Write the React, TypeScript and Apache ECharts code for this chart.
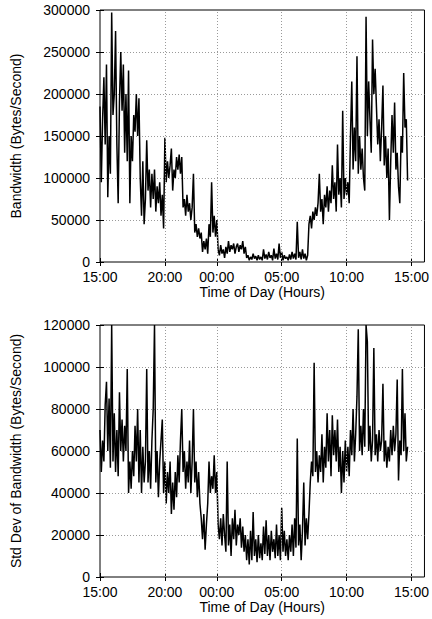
import React, { useEffect, useRef } from "react";
import * as echarts from "echarts";

// Sampling: one value every 0.1 hour starting at 15:00
const SAMPLE_STEP_HOURS = 0.1;

// Bandwidth (thousands of Bytes/Second)
const bandwidthK = [
  185, 95, 170, 220, 140, 235, 77, 150, 105, 297, 175, 200, 275, 140, 70, 190, 250, 180, 235, 130,
  200, 120, 228, 70, 150, 120, 175, 155, 200, 150, 195, 100, 55, 120, 45, 75, 145, 85, 110, 65,
  105, 75, 110, 60, 90, 70, 95, 55, 80, 40, 148, 95, 120, 100, 115, 135, 85, 110, 100, 125,
  110, 128, 105, 125, 65, 75, 55, 80, 60, 70, 50, 65, 105, 35, 45, 30, 40, 28, 35, 12,
  25, 15, 28, 10, 45, 30, 95, 35, 55, 30, 50, 15, 8, 20, 10, 15, 5, 18, 10, 25,
  12, 20, 15, 22, 10, 18, 22, 12, 20, 15, 25, 10, 18, 5, 8, 2, 6, 3, 10, 4,
  7, 2, 8, 3, 6, 2, 15, 4, 9, 3, 12, 5, 8, 2, 16, 4, 10, 3, 22, 5,
  12, 2, 8, 4, 6, 2, 9, 3, 12, 4, 10, 3, 48, 5, 12, 3, 15, 4, 10, 2,
  8, 45, 55, 40, 60, 50, 65, 55, 70, 105, 60, 75, 45, 80, 65, 90, 60, 85, 70, 115,
  75, 95, 60, 140, 80, 100, 65, 180, 75, 100, 80, 95, 70, 150, 215, 110, 160, 120, 245, 105,
  150, 110, 135, 100, 85, 292, 150, 215, 170, 130, 265, 200, 230, 185, 140, 170, 120, 160, 210, 115,
  150, 100, 135, 50, 120, 175, 130, 190, 110, 130, 90, 70, 150, 130, 225, 160, 170, 97,
];

// Std dev of bandwidth (thousands of Bytes/Second)
const stdDevK = [
  70, 50, 65, 55, 82, 93, 60, 85, 52, 120, 55, 78, 50, 70, 48, 88, 60, 75, 55, 72,
  60, 99, 40, 55, 42, 60, 48, 72, 55, 80, 45, 70, 40, 62, 45, 55, 99, 45, 60, 42,
  65, 80, 120, 45, 60, 38, 55, 65, 75, 40, 55, 35, 50, 40, 55, 30, 45, 32, 50, 38,
  58, 45, 65, 80, 50, 60, 42, 55, 45, 65, 40, 55, 80, 45, 55, 38, 50, 35, 28, 18,
  30, 13, 25, 35, 55, 40, 48, 42, 58, 40, 50, 25, 18, 28, 15, 30, 20, 12, 55, 15,
  25, 10, 28, 18, 32, 15, 25, 20, 28, 14, 24, 12, 20, 8, 18, 6, 22, 8, 31, 10,
  18, 7, 20, 9, 16, 8, 24, 11, 27, 10, 20, 8, 22, 12, 18, 9, 25, 10, 20, 8,
  33, 12, 22, 10, 18, 8, 20, 12, 25, 10, 28, 14, 66, 15, 25, 8, 22, 45, 15, 28,
  18, 30, 45, 55, 48, 102, 50, 60, 45, 58, 50, 68, 45, 62, 52, 78, 55, 70, 48, 77,
  58, 70, 55, 75, 50, 62, 40, 60, 45, 65, 50, 62, 48, 70, 58, 80, 55, 68, 86, 118,
  60, 72, 58, 80, 62, 120, 112, 60, 72, 55, 65, 109, 58, 68, 55, 70, 60, 65, 92, 55,
  65, 52, 62, 55, 70, 58, 72, 60, 68, 94, 46, 65, 58, 99, 60, 78, 55, 62,
];

// X axis ticks (hours after 15:00) and labels
const xTickHours = [0, 5, 9, 14, 19, 24];
const xTickLabels = ["15:00", "20:00", "00:00", "05:00", "10:00", "15:00"];
const X_MIN = 0;
const X_MAX = 25;

const FONT = "'Liberation Sans', Arial, Helvetica, sans-serif";

export default function App() {
  const ref = useRef<HTMLDivElement>(null);
  useEffect(() => {
    if (!ref.current) return;
    const chart = echarts.init(ref.current, undefined, { renderer: "svg" });

    const toPoints = (arr: number[]) => arr.map((v, i) => [i * SAMPLE_STEP_HOURS, v * 1000]);
    const labelFor = (v: number) => {
      const idx = xTickHours.indexOf(Math.round(v));
      return idx >= 0 ? xTickLabels[idx] : "";
    };

    const textStyle = { color: "#000", fontFamily: FONT, fontSize: 14, lineHeight: 14 };
    const gridLine = { color: "#9a9a9a", type: [1, 2] as any, width: 1 };

    const makeX = (gridIndex: number) => [
      {
        type: "value",
        gridIndex,
        min: X_MIN,
        max: X_MAX,
        position: "bottom",
        axisLine: { show: false },
        axisTick: { show: true, inside: true, length: 4, customValues: xTickHours, lineStyle: { color: "#000" } },
        axisLabel: {
          ...textStyle,
          margin: 8,
          customValues: xTickHours,
          formatter: (v: number) => labelFor(v),
        },
        splitLine: { show: false },
        name: "Time of Day (Hours)",
        nameLocation: "middle",
        nameGap: 23,
        nameTextStyle: { ...textStyle },
      },
      {
        type: "value",
        gridIndex,
        min: X_MIN,
        max: X_MAX,
        position: "top",
        axisLine: { show: false },
        axisTick: { show: true, inside: true, length: 4, customValues: xTickHours, lineStyle: { color: "#000" } },
        axisLabel: { show: false },
        splitLine: { show: false },
      },
    ];

    const makeY = (gridIndex: number, max: number, interval: number, name: string) => [
      {
        type: "value",
        gridIndex,
        min: 0,
        max,
        interval,
        position: "left",
        axisLine: { show: false },
        axisTick: { show: true, inside: true, length: 4, lineStyle: { color: "#000" } },
        axisLabel: { ...textStyle, margin: 10, formatter: (v: number) => String(v) },
        splitLine: { show: true, showMinLine: false, showMaxLine: false, lineStyle: gridLine },
        name,
        nameLocation: "middle",
        nameGap: 77,
        nameTextStyle: { ...textStyle },
      },
      {
        type: "value",
        gridIndex,
        min: 0,
        max,
        interval,
        position: "right",
        axisLine: { show: false },
        axisTick: { show: true, inside: true, length: 4, lineStyle: { color: "#000" } },
        axisLabel: { show: false },
        splitLine: { show: false },
      },
    ];

    const vGrid = (xAxisIndex: number, yAxisIndex: number) => ({
      type: "line",
      xAxisIndex,
      yAxisIndex,
      data: [],
      silent: true,
      z: 1,
      markLine: {
        silent: true,
        symbol: "none",
        label: { show: false },
        lineStyle: gridLine,
        data: xTickHours.filter((h) => h > X_MIN).map((h) => ({ xAxis: h })),
      },
    });

    const dataSeries = (xAxisIndex: number, yAxisIndex: number, arr: number[]) => ({
      type: "line",
      xAxisIndex,
      yAxisIndex,
      data: toPoints(arr),
      showSymbol: false,
      symbol: "none",
      z: 3,
      lineStyle: { color: "#000", width: 1.5 },
    });

    chart.setOption({
      animation: false,
      backgroundColor: "#fff",
      grid: [
        { left: 100, top: 10, width: 326, height: 252, show: true, borderColor: "#000", borderWidth: 1, backgroundColor: "transparent" },
        { left: 100, top: 325, width: 326, height: 252, show: true, borderColor: "#000", borderWidth: 1, backgroundColor: "transparent" },
      ],
      xAxis: [...makeX(0), ...makeX(1)],
      yAxis: [
        ...makeY(0, 300000, 50000, "Bandwidth (Bytes/Second)"),
        ...makeY(1, 120000, 20000, "Std Dev of Bandwidth (Bytes/Second)"),
      ],
      series: [
        vGrid(0, 0),
        dataSeries(0, 0, bandwidthK),
        vGrid(2, 2),
        dataSeries(2, 2, stdDevK),
      ],
    });

    return () => chart.dispose();
  }, []);

  return (
    <div
      ref={ref}
      style={{ position: "fixed", left: 0, top: 0, width: 432, height: 619, background: "#fff" }}
    />
  );
}
